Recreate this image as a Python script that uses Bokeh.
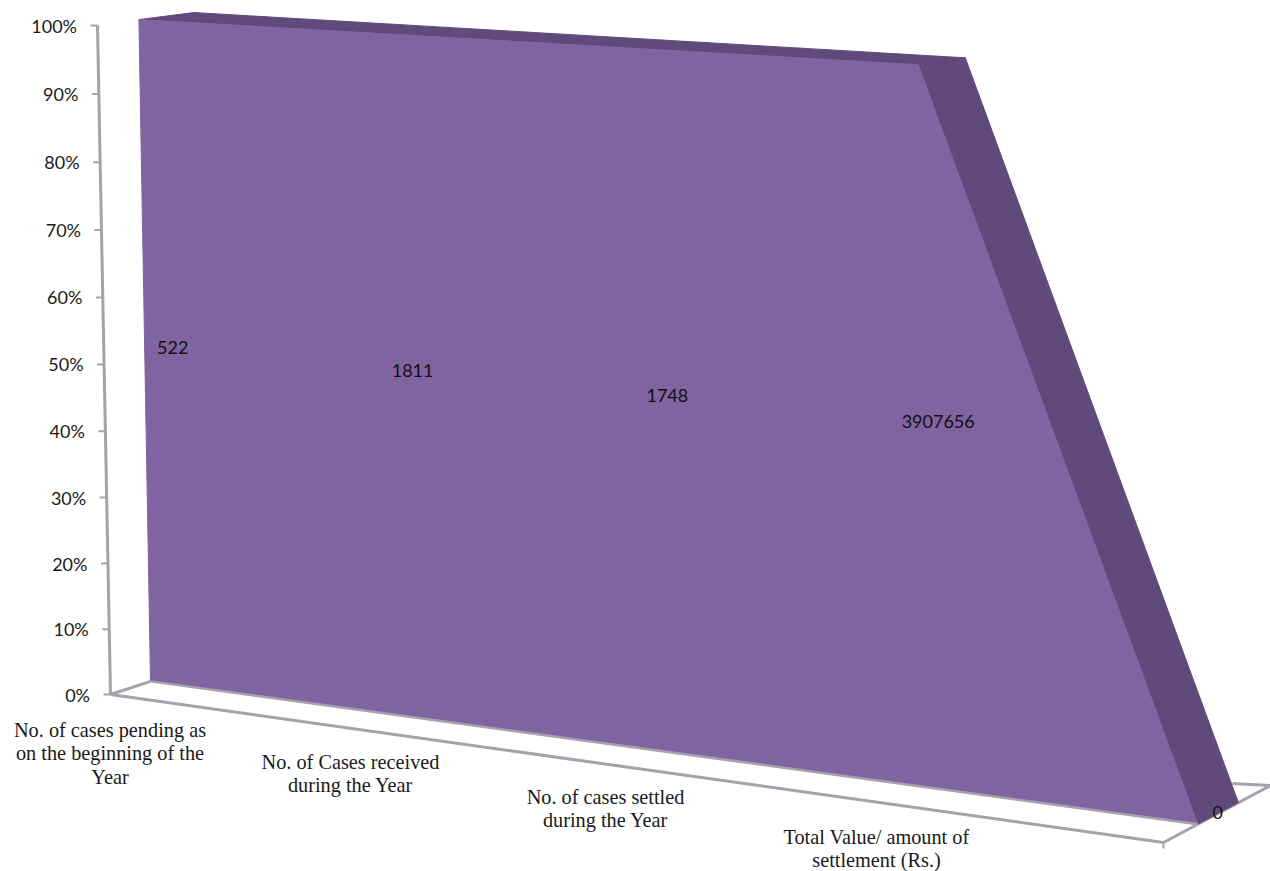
from bokeh.plotting import figure
from bokeh.models import Range1d
from bokeh.core.properties import value
from bokeh.embed import file_html
from bokeh.resources import INLINE

# ---- chart data ----
categories = [
    "No. of cases pending as\non the beginning of the\nYear",
    "No. of Cases received\nduring the Year",
    "No. of cases settled\nduring the Year",
    "Total Value/ amount of\nsettlement (Rs.)",
]
raw_values = [522, 1811, 1748, 3907656, 0]
share_pct = [100, 100, 100, 100, 0]
y_ticks = [0, 10, 20, 30, 40, 50, 60, 70, 80, 90, 100]

# ---- 3D projection: box corners as (category, percent, depth) -> page pixel ----
N_STEPS = 4
FLOOR = {(0, 0): (110, 694), (1, 0): (1163, 842), (0, 1): (235, 653), (1, 1): (1270, 785)}
ROOF = {(0, 0): (92, 25), (1, 0): (1140, 85), (0, 1): (237, 6.5), (1, 1): (1257, 67)}
PERSPECTIVE = 1.027
AREA_FRONT, AREA_BACK = 0.32, 0.70
AXIS_SKEW = 5


def project(i, pct, depth):
    u = i / N_STEPS
    p = pct / 100
    p = p / (p + (1 - p) * PERSPECTIVE)

    def plane(c):
        near = [c[(0, 0)][k] * (1 - u) + c[(1, 0)][k] * u for k in (0, 1)]
        far = [c[(0, 1)][k] * (1 - u) + c[(1, 1)][k] * u for k in (0, 1)]
        return [near[k] * (1 - depth) + far[k] * depth for k in (0, 1)]

    lo, hi = plane(FLOOR), plane(ROOF)
    return lo[0] * (1 - p) + hi[0] * p, lo[1] * (1 - p) + hi[1] * p


def axis_point(pct):
    x, y = project(0, pct, 0)
    return x + AXIS_SKEW * pct / 100, y


# ---- layout constants ----
VALUE_OFFSET = [(28, -7), (7, -10), (1, -10), (11, -10), (20, -12)]
CAT_X = [109.5, 350, 605, 876]
CAT_Y0 = [729, 761, 796, 836]
CAT_LINE = 23.5
GREY = "#a5a2ab"
FRONT = "#8064a2"
SIDE = "#604a7b"

p = figure(width=1270, height=871, output_backend="svg", toolbar_location=None,
           x_range=Range1d(0, 1270), y_range=Range1d(871, 0), min_border=0)
p.axis.visible = False
p.grid.visible = False
p.outline_line_color = None
p.background_fill_color = "white"


def seg(a, b, w=3, color=GREY):
    p.line([a[0], b[0]], [a[1], b[1]], line_color=color, line_width=w)


# floor and value axis
seg(project(0, 0, 0), project(N_STEPS, 0, 0))
seg(project(N_STEPS, 0, 0), project(N_STEPS, 0, 1))
seg(project(0, 0, 0), project(0, 0, AREA_FRONT))
bx, by = project(N_STEPS, 0, AREA_BACK)
ex, ey = project(N_STEPS, 0, 1)
seg((bx - 6, by - 19), (ex, ey))
seg(axis_point(0), axis_point(100))
fx, fy = project(N_STEPS, 0, 0)
seg((fx, fy), (fx, fy + 6), 2)

# value-axis ticks and labels
for t in y_ticks:
    x, y = axis_point(t)
    seg((x - 7, y), (x, y), 2)
    p.text([x - 20.5], [y], text=[f"{t}%"], text_font=value("Lato"), text_font_size="18px",
           text_color="#1a1a1a", text_align="right", text_baseline="middle")

# area: top and side walls, then the front face
n = len(share_pct)
side_xs, side_ys = [], []
for i in range(n - 1):
    a = project(i, share_pct[i], AREA_FRONT)
    b = project(i + 1, share_pct[i + 1], AREA_FRONT)
    c = project(i + 1, share_pct[i + 1], AREA_BACK)
    d = project(i, share_pct[i], AREA_BACK)
    side_xs.append([a[0], b[0], c[0], d[0]])
    side_ys.append([a[1], b[1], c[1], d[1]])
p.patches(side_xs, side_ys, fill_color=SIDE, line_color=SIDE, line_width=1)

outline = [project(i, share_pct[i], AREA_FRONT) for i in range(n)]
outline += [project(i, 0, AREA_FRONT) for i in range(n - 1, -1, -1)]
p.patch([q[0] for q in outline], [q[1] for q in outline], fill_color=FRONT, line_color=FRONT, line_width=1)
seg(project(0, 0, AREA_FRONT), project(N_STEPS, 0, AREA_FRONT), 2.5)

# data labels
for i, v in enumerate(raw_values):
    x, y = project(i, share_pct[i] / 2, AREA_FRONT)
    dx, dy = VALUE_OFFSET[i]
    p.text([x + dx], [y + dy], text=[str(v)], text_font=value("Lato"), text_font_size="18px",
           text_color="#111111", text_align="center", text_baseline="middle")

# category labels
for label, cx, y0 in zip(categories, CAT_X, CAT_Y0):
    for k, line in enumerate(label.split("\n")):
        p.text([cx], [y0 + k * CAT_LINE], text=[line],
               text_font=value("Liberation Serif"), text_font_size="20.3px", text_color="#1a1a1a",
               text_align="center", text_baseline="middle")

open("out.html", "w").write(file_html(p, INLINE))
